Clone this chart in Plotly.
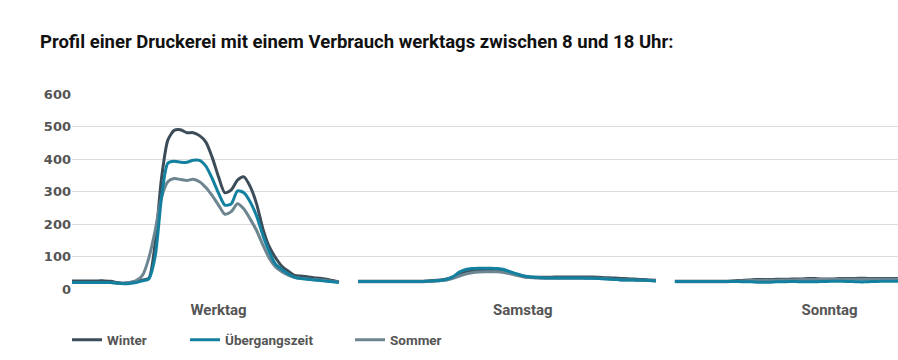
import plotly.graph_objects as go

# half-hourly time grid within a day (hours)
hours = [h / 2 for h in range(48)]
day_labels = ["Werktag", "Samstag", "Sonntag"]
day_offset = [0, 25, 50]          # hours between the starts of the plotted days
label_pos = [14, 38, 62.2]        # where the day labels sit on the axis
y_ticks = [0, 100, 200, 300, 400, 500, 600]

winter = {
    "Werktag": [25, 25, 25, 25, 25, 25, 25, 25, 25, 25, 25,
                24, 20, 18, 20, 24, 28, 33, 141, 340, 458, 488, 490, 481, 481, 472,
                452, 405, 345, 296, 305, 335, 345, 315, 262, 185, 130, 96, 70, 55,
                42, 40, 38, 35, 33, 30, 26, 22],
    "Samstag": [24, 24, 24, 24, 24, 24, 24, 24, 24, 24, 24,
                25, 26, 28, 31, 36, 45, 52, 56, 58, 59, 59, 58, 56, 50, 45, 40, 37,
                36, 36, 36, 37, 37, 37, 37, 37, 37, 37, 36, 35, 34, 33, 32, 31, 30,
                29, 28, 27],
    "Sonntag": [24, 24, 24, 24, 24, 24, 24, 24, 24,
                25, 26, 27, 28, 29, 29, 29, 30, 30, 30, 31, 31, 32, 32, 31, 31, 31,
                32, 32, 32, 33, 33, 32, 32, 32, 32, 32,
                31, 31, 31, 30, 30, 30, 29, 29, 28, 28, 27, 27],
}
uebergang = {
    "Werktag": [20, 20, 20, 20, 20, 20, 20, 20, 20, 20, 20,
                20, 18, 16, 17, 20, 25, 31, 100, 280, 387, 393, 390, 390, 396, 396,
                378, 340, 295, 258, 262, 302, 296, 268, 225, 165, 115, 76, 60, 46,
                36, 32, 30, 28, 26, 24, 22, 20],
    "Samstag": [23, 23, 23, 23, 23, 23, 23, 23, 23, 23, 23,
                24, 25, 26, 30, 38, 52, 60, 63, 64, 64, 64, 63, 60, 53, 47, 41, 38,
                36, 35, 34, 34, 34, 34, 34, 34, 33, 33, 32, 31, 30, 29, 28, 28, 27,
                27, 26, 25],
    "Sonntag": [23, 23, 23, 23, 23, 23, 23, 23, 23,
                23, 23, 22, 22, 21, 21, 21, 22, 22, 23, 23, 22, 22, 22, 23, 23, 24,
                24, 23, 23, 22, 22, 23, 23, 24, 24, 24,
                24, 24, 23, 23, 23, 23, 22, 22, 22, 22, 22, 22],
}
sommer = {
    "Werktag": [20, 20, 20, 20, 20, 20, 20, 20, 20, 20, 20,
                20, 18, 18, 20, 26, 42, 95, 180, 282, 330, 340, 337, 334, 338, 330,
                312, 287, 258, 230, 238, 262, 246, 215, 180, 135, 95, 68, 53, 43,
                36, 33, 31, 29, 28, 26, 23, 22],
    "Samstag": [22, 22, 22, 22, 22, 22, 22, 22, 22, 22, 22,
                23, 24, 26, 28, 33, 40, 46, 50, 52, 53, 53, 53, 51, 47, 42, 38, 35,
                34, 33, 33, 33, 33, 33, 33, 33, 33, 33, 33, 32, 30, 29, 28, 28, 27,
                27, 26, 25],
    "Sonntag": [22, 22, 22, 22, 22, 22, 22, 22, 22,
                23, 24, 25, 26, 26, 27, 27, 27, 28, 28, 28, 29, 29, 29, 29, 29, 29,
                30, 30, 30, 30, 30, 30, 30, 30, 30, 30,
                29, 29, 29, 28, 28, 28, 27, 27, 27, 26, 26, 26],
}

series = [
    ("Winter", winter, "#3c4d59", "legend"),
    ("Sommer", sommer, "#6d8591", "legend3"),
    ("Übergangszeit", uebergang, "#13809f", "legend2"),
]


def build(values):
    xs, ys = [], []
    for d, day in enumerate(day_labels):
        xs += [day_offset[d] + h for h in hours] + [None]
        ys += values[day] + [None]
    return xs, ys


fig = go.Figure()
for name, vals, color, leg in series:
    xs, ys = build(vals)
    fig.add_trace(go.Scatter(
        x=xs, y=ys, name=name, mode="lines", legend=leg,
        line=dict(color=color, width=3, shape="spline", smoothing=0.7),
        connectgaps=False, hoverinfo="skip",
    ))

W, H = 898, 360

legend_common = dict(
    orientation="h", xref="container", yref="container",
    yanchor="middle", y=1 - 340 / H, xanchor="left",
    font=dict(family="Roboto", size=13.5, color="#555555", weight="bold"),
    bgcolor="rgba(0,0,0,0)", itemwidth=30,
)
fig.update_layout(
    width=W, height=H,
    margin=dict(l=72, r=0, t=94, b=H - 289, autoexpand=False),
    paper_bgcolor="white", plot_bgcolor="white",
    title=dict(
        text="<b>Profil einer Druckerei mit einem Verbrauch werktags zwischen 8 und 18 Uhr:</b>",
        font=dict(family="Roboto", size=18.5, color="#111111"),
        xref="container", yref="container", x=40 / W, xanchor="left",
        y=1 - 42 / H, yanchor="middle",
    ),
    legend=dict(legend_common, x=67 / W),
    legend2=dict(legend_common, x=185 / W),
    legend3=dict(legend_common, x=350 / W),
    xaxis=dict(
        range=[2.44, 67.6], showgrid=False, zeroline=False, showline=False,
        tickmode="array", tickvals=label_pos, ticktext=day_labels, ticks="",
        tickfont=dict(family="Roboto", size=15, color="#555555", weight="bold"),
        ticklabelstandoff=10,
    ),
    yaxis=dict(
        range=[0, 600], tickmode="array", tickvals=y_ticks,
        showgrid=True, gridcolor="#dcdcdc", gridwidth=1, zeroline=False,
        showline=False, ticks="",
        tickfont=dict(family="DejaVu Sans", size=13, color="#555555", weight="bold"),
    ),
    showlegend=True,
)

fig.write_html(
    "out.html",
    config={"displayModeBar": False},
    post_script="document.body.style.margin='0';document.body.style.overflow='hidden';",
)
